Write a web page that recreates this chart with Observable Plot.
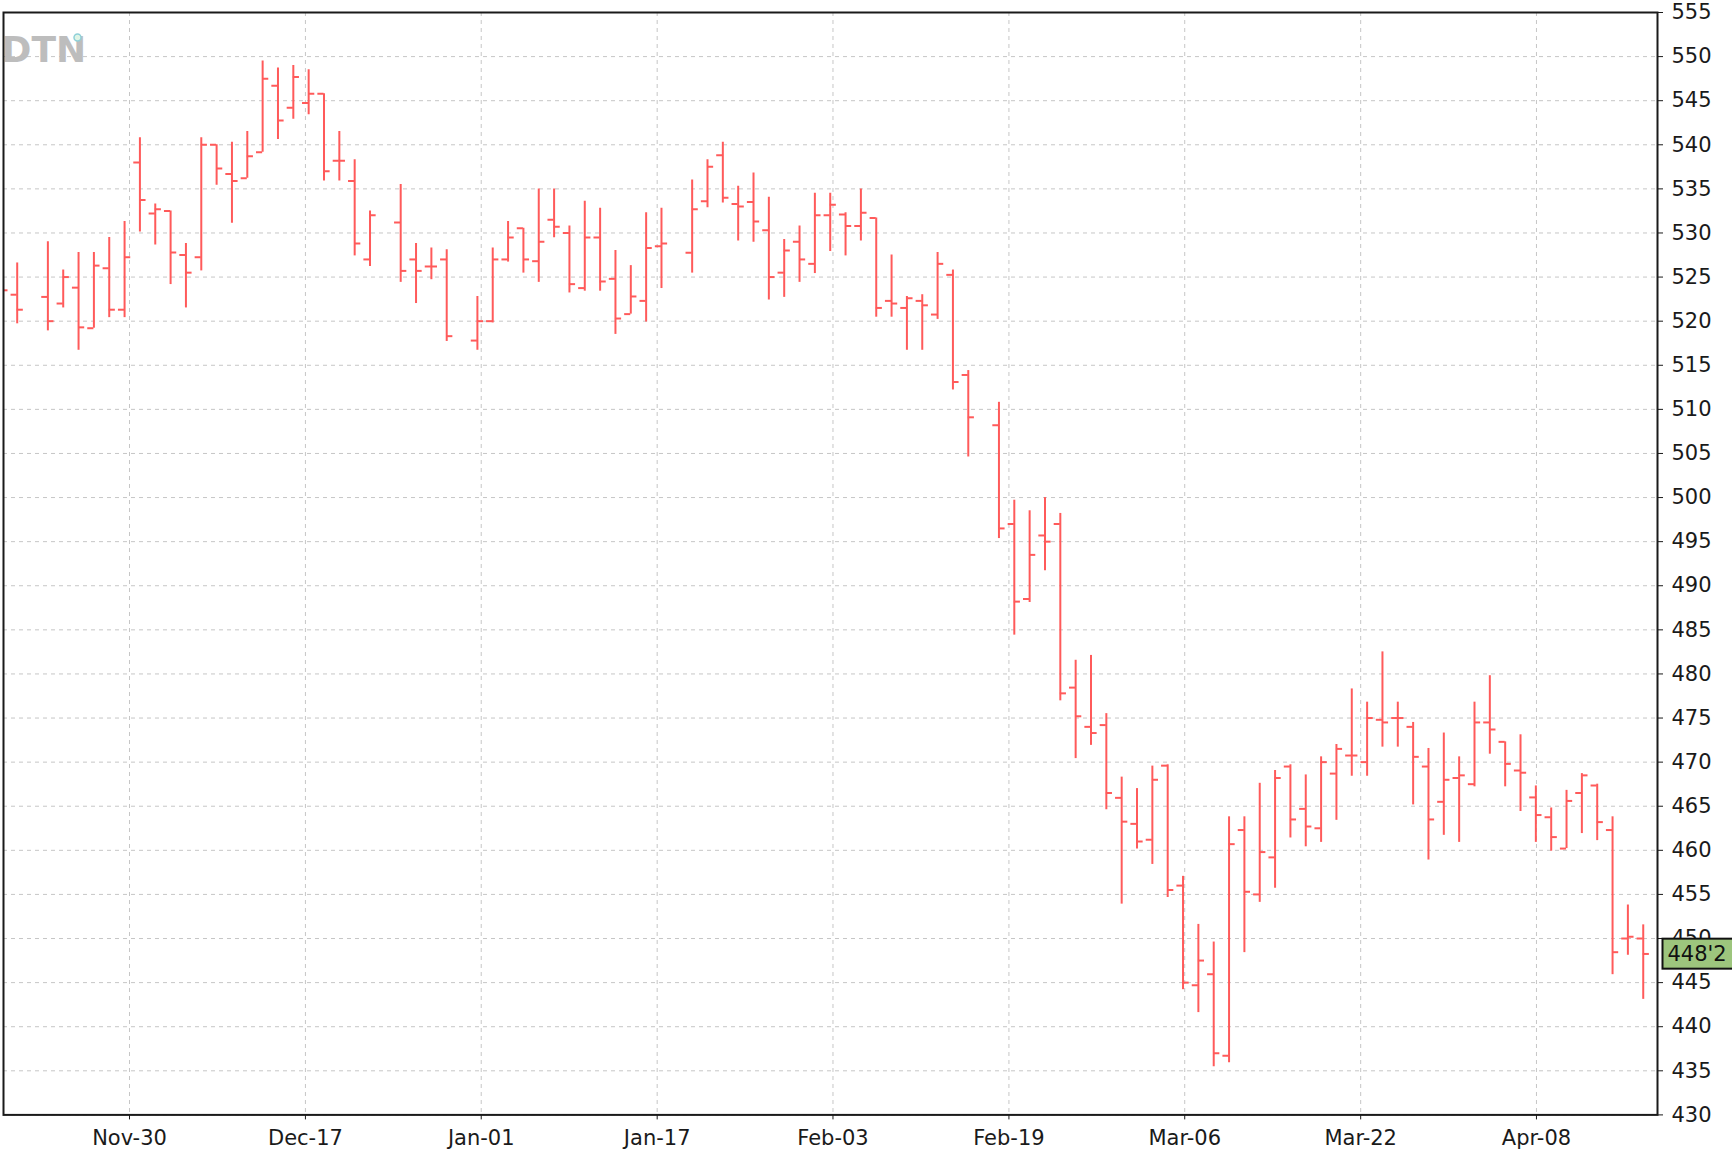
<!DOCTYPE html>
<html><head><meta charset="utf-8">
<script src="https://cdn.jsdelivr.net/npm/d3@7"></script>
<script src="https://cdn.jsdelivr.net/npm/@observablehq/plot@0.6"></script>
<style>
html,body{margin:0;padding:0;background:#fff;}
#chart svg{display:block;}
</style></head><body><div id="chart"></div>
<script>
// One entry per trading-day slot; null = no session (holiday)
const open = [523.6,523.0,null,522.75,522.0,523.8,519.2,526.0,521.3,538.0,532.2,532.5,527.5,527.25,540.0,536.7,536.2,539.15,546.7,544.2,544.75,545.8,538.2,535.9,527.0,null,531.2,527.0,526.2,527.0,null,517.8,520.0,527.0,530.55,526.8,531.5,530.0,523.75,529.5,524.8,520.8,522.3,528.5,null,527.75,533.6,538.8,533.3,533.5,530.3,525.5,529.0,526.5,532.0,532.1,530.8,531.7,522.3,521.5,522.3,520.75,525.25,513.9,null,508.2,497.0,488.5,495.7,497.0,478.45,474.0,474.2,465.95,463.0,461.2,469.6,456.0,444.7,445.95,436.7,462.3,455.0,459.2,469.5,464.7,462.5,468.7,470.75,470.0,474.8,475.0,474.0,469.5,465.5,468.2,467.5,474.5,472.3,469.05,466.0,463.75,460.2,466.5,467.35,462.3,450.0,450.0];
const high = [524.5,526.6,null,529.0,525.8,527.8,527.8,529.5,531.3,540.8,533.3,532.5,528.8,540.8,540.0,540.3,541.5,549.5,548.7,549.0,548.5,545.8,541.5,538.3,532.5,null,535.5,528.8,528.3,528.1,null,522.8,528.3,531.3,530.55,535.0,535.0,530.8,533.6,532.8,528.0,526.3,532.3,532.8,null,536.0,538.3,540.3,535.3,536.8,534.05,529.25,530.8,534.5,534.5,532.3,535.0,531.7,527.5,522.8,523.0,527.8,525.8,514.4,null,510.8,499.7,498.5,500.0,498.2,481.55,482.1,475.5,468.3,467.0,469.55,469.7,457.05,451.6,449.6,463.8,463.8,467.6,469.05,469.7,468.55,470.6,472.0,478.3,476.8,482.5,476.8,474.5,471.55,473.3,470.6,476.8,479.8,472.3,473.1,467.3,464.8,466.8,468.7,467.5,463.8,453.8,451.55];
const low = [522.8,519.7,null,518.9,521.5,516.7,519.2,520.4,520.4,530.1,528.65,524.15,521.5,525.7,535.4,531.1,536.2,539.15,540.6,542.9,543.4,535.9,535.9,527.4,526.2,null,524.4,522.0,524.7,517.7,null,516.7,519.8,526.7,525.45,524.4,529.45,523.2,523.4,523.4,518.5,520.8,519.9,523.7,null,525.45,532.85,533.4,529.1,528.95,522.4,522.7,524.4,525.4,527.9,527.4,529.1,520.45,520.45,516.7,516.7,520.2,512.2,504.6,null,495.35,484.4,488.1,491.7,476.95,470.4,471.9,464.6,453.9,460.15,458.4,454.65,444.2,441.6,435.45,435.9,448.4,454.1,455.7,461.4,460.4,460.9,463.4,468.4,468.4,471.7,471.7,465.15,458.9,461.7,460.9,467.2,470.9,467.2,464.4,460.9,459.9,460.2,461.9,461.1,445.9,448.1,443.1];
const close = [523.5,521.3,null,520.0,525.0,519.3,526.3,521.3,527.25,533.75,532.7,527.8,525.5,540.0,537.3,535.9,538.7,547.5,542.75,547.7,545.8,537.0,538.2,528.8,532.0,null,525.7,525.7,526.2,518.3,null,520.0,527.0,529.5,527.0,529.0,530.7,524.2,529.5,524.5,520.3,522.8,528.3,528.8,null,532.7,537.5,534.0,533.0,531.3,525.0,528.0,527.0,532.0,533.2,530.8,532.3,521.5,522.0,522.6,521.8,526.5,513.1,509.1,null,496.5,488.2,493.5,495.0,477.8,475.2,473.3,466.5,463.25,461.0,468.0,455.5,445.0,447.5,437.0,460.7,455.3,459.8,468.2,463.5,462.7,470.0,471.5,470.75,475.0,474.5,475.0,470.6,463.5,468.0,468.5,474.5,473.7,469.8,468.8,464.0,461.5,465.6,468.5,463.2,448.45,450.2,448.25];

const yTicks = [430,435,440,445,450,455,460,465,470,475,480,485,490,495,500,505,510,515,520,525,530,535,540,545,550,555];
const xTickSlots = [8.32,19.79,31.25,42.72,54.18,65.65,77.11,88.58,100.04];
const xTickLabels = ["Nov-30","Dec-17","Jan-01","Jan-17","Feb-03","Feb-19","Mar-06","Mar-22","Apr-08"];
const lastLabel = "448'2";
const logoText = "DTN";

const bars = open.map((o, i) => ({slot: i, open: o, high: high[i], low: low[i], close: close[i]}))
  .filter(d => d.open != null);
const lastClose = bars[bars.length - 1].close;
const labelOf = new Map(xTickSlots.map((s, i) => [s, xTickLabels[i]]));

const red = "#ff5a5a";
const tickLen = 0.4;
const grid = {stroke: "#c6c6c6", strokeOpacity: 1, strokeWidth: 1, strokeDasharray: "4,4"};
const font = "'DejaVu Sans',sans-serif";

const chart = Plot.plot({
  width: 1732, height: 1161,
  marginLeft: 3, marginRight: 75, marginTop: 12, marginBottom: 46.6,
  style: {fontFamily: font, fontSize: "21px", color: "#1a1a1a", background: "#fff"},
  x: {type: "linear", domain: [0.107, 107.93], axis: null},
  y: {domain: [430, 555], axis: null},
  marks: [
    Plot.ruleY(yTicks, {y: d => d, ...grid}),
    Plot.ruleX(xTickSlots, {x: d => d, ...grid}),
    Plot.text([logoText], {frameAnchor: "top-left", dx: -2, dy: 24, text: d => d, textAnchor: "start",
      fontSize: 36, fontWeight: "bold", fill: "#bdbdbd", fontFamily: "'DejaVu Sans',sans-serif"}),
    Plot.dot([logoText], {frameAnchor: "top-left", dx: 74, dy: 25, r: 3.5, stroke: "#8fd0d8", strokeWidth: 1.5, fill: "#dff5e6"}),
    Plot.ruleX(bars, {x: "slot", y1: "low", y2: "high", stroke: red, strokeWidth: 2, clip: true}),
    Plot.ruleY(bars, {y: "open", x1: d => d.slot - tickLen, x2: "slot", stroke: red, strokeWidth: 2, clip: true}),
    Plot.ruleY(bars, {y: "close", x1: "slot", x2: d => d.slot + tickLen, stroke: red, strokeWidth: 2, clip: true}),
    Plot.frame({stroke: "#1a1a1a", strokeWidth: 2}),
    Plot.axisY(yTicks, {anchor: "right", tickSize: 5, tickPadding: 9, label: null, stroke: "#1a1a1a", fill: "#1a1a1a", fontSize: 21}),
    Plot.axisX(xTickSlots, {anchor: "bottom", tickSize: 5, tickPadding: 10, label: null, tickFormat: d => labelOf.get(d), stroke: "#1a1a1a", fill: "#1a1a1a", fontSize: 21}),
    Plot.text([lastClose], {y: d => d, frameAnchor: "right", dx: 10, textAnchor: "start", text: () => lastLabel,
      fill: "#111", fontSize: 21})
  ]
});
document.getElementById("chart").appendChild(chart);

// Draw the green price badge behind the last-price label
const svg = chart.tagName.toLowerCase() === "svg" ? chart : chart.querySelector("svg");
const badge = Array.from(svg.querySelectorAll("text")).find(t => t.textContent === lastLabel);
if (badge) {
  const bb = badge.getBBox();
  const m = svg.getScreenCTM().inverse().multiply(badge.getScreenCTM());
  const x0 = m.a * bb.x + m.e, cy = m.d * (bb.y + bb.height / 2) + m.f;
  const rect = document.createElementNS("http://www.w3.org/2000/svg", "rect");
  rect.setAttribute("x", x0 - 5);
  rect.setAttribute("y", cy - 15);
  rect.setAttribute("width", 1732 - x0 + 10);
  rect.setAttribute("height", 30);
  rect.setAttribute("fill", "#9dc57d");
  rect.setAttribute("stroke", "#111");
  rect.setAttribute("stroke-width", 2);
  const g = badge.closest("g");
  g.parentNode.insertBefore(rect, g);
}
</script></body></html>
